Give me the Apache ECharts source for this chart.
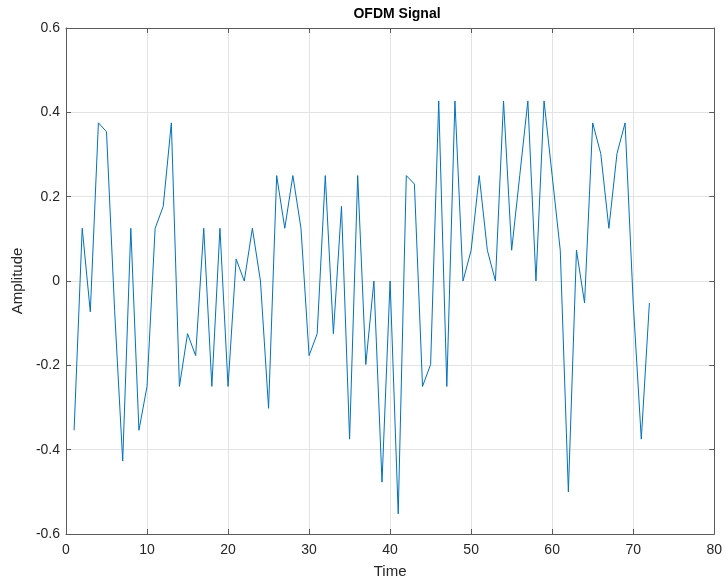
<!DOCTYPE html>
<html>
<head>
<meta charset="utf-8">
<script src="https://cdn.jsdelivr.net/npm/echarts@6/dist/echarts.min.js"></script>
<style>
  html, body { margin: 0; padding: 0; background: #fff; }
  #chart { width: 725px; height: 584px; }
</style>
</head>
<body>
<div id="chart"></div>
<script>
// OFDM time-domain samples, one per time index
const timeIndex = [
  1, 2, 3, 4, 5, 6, 7, 8, 9, 10, 11, 12, 13, 14, 15, 16, 17, 18,
  19, 20, 21, 22, 23, 24, 25, 26, 27, 28, 29, 30, 31, 32, 33, 34, 35, 36,
  37, 38, 39, 40, 41, 42, 43, 44, 45, 46, 47, 48, 49, 50, 51, 52, 53, 54,
  55, 56, 57, 58, 59, 60, 61, 62, 63, 64, 65, 66, 67, 68, 69, 70, 71, 72
];
const amplitude = [
  -0.354, 0.125, -0.073, 0.375, 0.354, -0.07, -0.427, 0.125, -0.354, -0.25, 0.125, 0.177, 0.375, -0.25, -0.125, -0.177, 0.125, -0.25,
  0.125, -0.25, 0.052, 0, 0.125, 0, -0.302, 0.25, 0.125, 0.25, 0.125, -0.177, -0.125, 0.25, -0.125, 0.177, -0.375, 0.25,
  -0.198, 0, -0.477, 0, -0.552, 0.25, 0.23, -0.25, -0.198, 0.427, -0.25, 0.427, 0, 0.073, 0.25, 0.073, 0, 0.427,
  0.073, 0.25, 0.427, 0, 0.427, 0.25, 0.073, -0.5, 0.073, -0.052, 0.375, 0.302, 0.125, 0.302, 0.375, -0.05, -0.375, -0.052
];
const xTicks = { min: 0, max: 80, interval: 10 };
const yTicks = { min: -0.6, max: 0.6, interval: 0.2 };

const FONT = '"Liberation Sans", Arial, sans-serif';
const AXIS_COLOR = '#5a5a5a';
const TEXT_COLOR = '#262626';
const GRID_COLOR = '#e3e3e3';

const points = timeIndex.map((t, i) => [t, amplitude[i]]);
const fmtY = v => String(+v.toFixed(1));

const chart = echarts.init(document.getElementById('chart'), null, { renderer: 'canvas' });

// top and right axes close the box around the plot, ticks only
const boxAxis = {
  axisLine: { show: true, onZero: false, lineStyle: { color: AXIS_COLOR, width: 1 } },
  axisTick: { show: true, inside: true, length: 5, lineStyle: { color: AXIS_COLOR } },
  axisLabel: { show: false },
  splitLine: { show: false }
};

chart.setOption({
  animation: false,
  backgroundColor: '#ffffff',
  title: {
    text: 'OFDM Signal',
    left: 392, top: 2, textAlign: 'center',
    textStyle: { fontFamily: FONT, fontSize: 14, fontWeight: 'bold', color: '#000' }
  },
  grid: { left: 66, right: 6, top: 28, bottom: 43, containLabel: false },
  xAxis: [
    {
      type: 'value', position: 'bottom',
      min: xTicks.min, max: xTicks.max, interval: xTicks.interval,
      name: 'Time', nameLocation: 'middle', nameGap: 30,
      nameTextStyle: { fontFamily: FONT, fontSize: 15, color: TEXT_COLOR },
      axisLine: { show: true, onZero: false, lineStyle: { color: AXIS_COLOR, width: 1 } },
      axisTick: { show: true, inside: true, length: 5, lineStyle: { color: AXIS_COLOR } },
      axisLabel: { fontFamily: FONT, fontSize: 14, color: TEXT_COLOR, margin: 9 },
      splitLine: { show: true, lineStyle: { color: GRID_COLOR, width: 1 } }
    },
    Object.assign({ type: 'value', position: 'top', min: xTicks.min, max: xTicks.max, interval: xTicks.interval }, boxAxis)
  ],
  yAxis: [
    {
      type: 'value', position: 'left',
      min: yTicks.min, max: yTicks.max, interval: yTicks.interval,
      name: 'Amplitude', nameLocation: 'middle', nameGap: 36,
      nameTextStyle: { fontFamily: FONT, fontSize: 15, color: TEXT_COLOR },
      axisLine: { show: true, onZero: false, lineStyle: { color: AXIS_COLOR, width: 1 } },
      axisTick: { show: true, inside: true, length: 5, lineStyle: { color: AXIS_COLOR } },
      axisLabel: { fontFamily: FONT, fontSize: 14, color: TEXT_COLOR, margin: 6, formatter: fmtY },
      splitLine: { show: true, lineStyle: { color: GRID_COLOR, width: 1 } }
    },
    Object.assign({ type: 'value', position: 'right', min: yTicks.min, max: yTicks.max, interval: yTicks.interval }, boxAxis)
  ],
  series: [{
    type: 'line',
    xAxisIndex: 0, yAxisIndex: 0,
    data: points,
    showSymbol: false,
    symbol: 'none',
    lineStyle: { color: '#0072BD', width: 1 }
  }]
});
</script>
</body>
</html>
